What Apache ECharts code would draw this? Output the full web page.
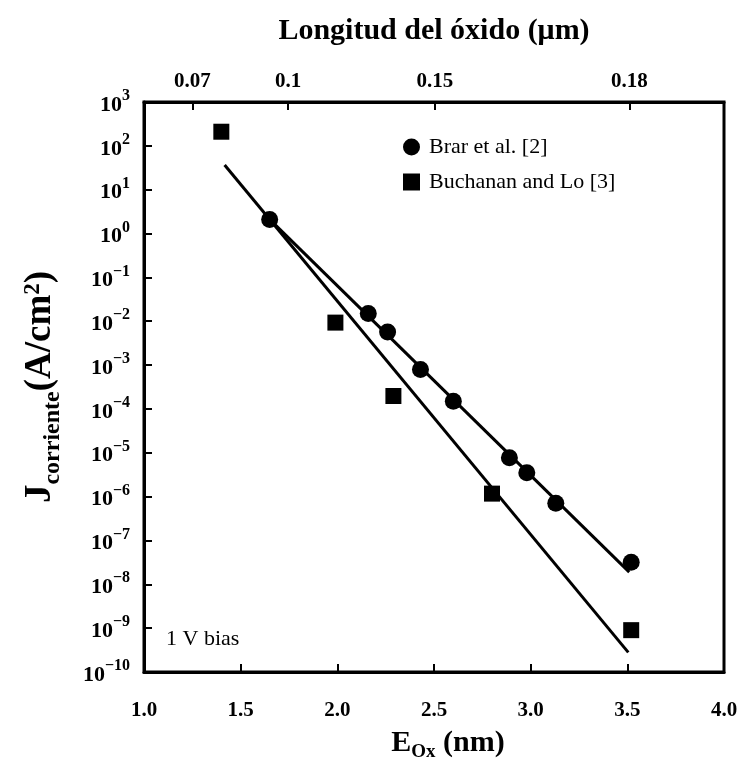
<!DOCTYPE html>
<html>
<head>
<meta charset="utf-8">
<script src="https://cdn.jsdelivr.net/npm/echarts@6/dist/echarts.min.js"></script>
<style>
  html, body { margin: 0; padding: 0; background: #ffffff; }
  #chart { width: 739px; height: 758px; }
</style>
</head>
<body>
<div id="chart"></div>
<script>
// ---- Data ----
// Brar et al. [2] (circles): oxide thickness (nm), current density (A/cm^2)
const brarX = [1.65, 2.16, 2.26, 2.43, 2.60, 2.89, 2.98, 3.13, 3.52];
const brarY = [2.1, 1.5e-2, 5.7e-3, 7.9e-4, 1.5e-4, 7.7e-6, 3.5e-6, 7.1e-7, 3.2e-8];

// Buchanan and Lo [3] (squares)
const buchX = [1.40, 1.99, 2.29, 2.80, 3.52];
const buchY = [2.1e2, 9.3e-3, 1.97e-4, 1.17e-6, 9.0e-10];

// Fitted straight lines (endpoints as drawn)
const brarFitX = [1.65, 3.51];
const brarFitY = [2.1, 1.9e-8];
const buchFitX = [1.417, 3.505];
const buchFitY = [36.5, 2.8e-10];

// Axis ticks
const yExponents = [3, 2, 1, 0, -1, -2, -3, -4, -5, -6, -7, -8, -9, -10];
const topTickPos = [1.25, 1.745, 2.505, 3.51];
const topTickLabels = ['0.07', '0.1', '0.15', '0.18'];

const seriesNames = ['Brar et al. [2]', 'Buchanan and Lo [3]'];

// ---- Build ----
const zip = (xs, ys) => xs.map((x, i) => [x, ys[i]]);
const SERIF = '"Liberation Serif", "DejaVu Serif", serif';

const chart = echarts.init(document.getElementById('chart'), null, { renderer: 'canvas' });

const option = {
  backgroundColor: '#ffffff',
  animation: false,
  grid: {
    left: 144, right: 15, top: 102, bottom: 86,
    containLabel: false, outerBoundsMode: 'none',
    show: true, borderColor: '#000', borderWidth: 3, backgroundColor: 'transparent'
  },
  legend: {
    data: [
      { name: seriesNames[0], icon: 'circle' },
      { name: seriesNames[1], icon: 'rect' }
    ],
    orient: 'vertical',
    left: 398, top: 131,
    itemWidth: 17, itemHeight: 17, itemGap: 13, itemStyle: { opacity: 1, color: '#000' },
    textStyle: { fontFamily: SERIF, fontSize: 22, color: '#000', fontWeight: 'normal', padding: [0, 0, 0, 4] }
  },
  xAxis: [
    {
      type: 'value', min: 1, max: 4, interval: 0.5, position: 'bottom',
      name: '{m|E}{s|Ox}{m| (nm)}',
      nameLocation: 'middle', nameGap: 56,
      nameTextStyle: {
        padding: [0, 0, 0, 28],
        rich: {
          m: { fontFamily: SERIF, fontSize: 30, fontWeight: 'bold', color: '#000', lineHeight: 32, verticalAlign: 'top' },
          s: { fontFamily: SERIF, fontSize: 19, fontWeight: 'bold', color: '#000', lineHeight: 42, verticalAlign: 'top', padding: [15, 0, 0, 0] }
        }
      },
      axisLine: { lineStyle: { color: '#000', width: 3 } },
      axisTick: { inside: true, length: 8, lineStyle: { color: '#000', width: 2 } },
      axisLabel: {
        margin: 28, color: '#000', fontFamily: SERIF, fontSize: 21, fontWeight: 'bold',
        formatter: v => v.toFixed(1)
      },
      splitLine: { show: false }
    },
    {
      type: 'value', min: 1, max: 4, position: 'top',
      name: 'Longitud del óxido (μm)',
      nameLocation: 'middle', nameGap: 56,
      nameTextStyle: { fontFamily: SERIF, fontSize: 30, fontWeight: 'bold', color: '#000' },
      axisLine: { lineStyle: { color: '#000', width: 3 } },
      axisTick: { inside: true, length: 8, customValues: topTickPos, lineStyle: { color: '#000', width: 2 } },
      axisLabel: {
        margin: 10, color: '#000', fontFamily: SERIF, fontSize: 21, fontWeight: 'bold',
        customValues: topTickPos,
        formatter: v => {
          let best = 0;
          topTickPos.forEach((p, i) => { if (Math.abs(p - v) < Math.abs(topTickPos[best] - v)) best = i; });
          return topTickLabels[best];
        }
      },
      splitLine: { show: false }
    }
  ],
  yAxis: {
    type: 'log', logBase: 10, min: Math.pow(10, yExponents[yExponents.length - 1]), max: Math.pow(10, yExponents[0]),
    interval: 1,
    name: '{m|J}{s|corriente}{m|(A/cm}{p|2}{m|)}',
    nameLocation: 'middle', nameRotate: 90, nameGap: 80,
    nameTextStyle: {
      rich: {
        m: { fontFamily: SERIF, fontSize: 37, fontWeight: 'bold', color: '#000', lineHeight: 40, verticalAlign: 'top' },
        s: { fontFamily: SERIF, fontSize: 24, fontWeight: 'bold', color: '#000', lineHeight: 42, verticalAlign: 'top', padding: [19, 0, 0, 0] },
        p: { fontFamily: SERIF, fontSize: 23, fontWeight: 'bold', color: '#000', lineHeight: 22, verticalAlign: 'top' }
      }
    },
    axisLine: { lineStyle: { color: '#000', width: 3 } },
    axisTick: { inside: true, length: 8, lineStyle: { color: '#000', width: 2 } },
    axisLabel: {
      margin: 14,
      formatter: v => {
        const e = Math.round(Math.log10(v));
        return '{b|10}{s|' + (e < 0 ? '\u2212' + (-e) : e) + '}';
      },
      rich: {
        b: { fontFamily: SERIF, fontSize: 22, fontWeight: 'bold', color: '#000', lineHeight: 28, verticalAlign: 'bottom' },
        s: { fontFamily: SERIF, fontSize: 16, fontWeight: 'bold', color: '#000', lineHeight: 18, verticalAlign: 'top' }
      }
    },
    splitLine: { show: false }
  },
  graphic: [
    {
      type: 'text', left: 166, top: 628,
      style: { text: '1 V bias', fontFamily: SERIF, fontSize: 22, fill: '#000' }
    }
  ],
  series: [
    {
      name: seriesNames[0] + ' fit', type: 'line', xAxisIndex: 0,
      data: zip(brarFitX, brarFitY), showSymbol: false, symbol: 'none',
      lineStyle: { color: '#000', width: 3 }, z: 2
    },
    {
      name: seriesNames[1] + ' fit', type: 'line', xAxisIndex: 0,
      data: zip(buchFitX, buchFitY), showSymbol: false, symbol: 'none',
      lineStyle: { color: '#000', width: 3 }, z: 2
    },
    {
      name: seriesNames[0], type: 'scatter', xAxisIndex: 0,
      data: zip(brarX, brarY), symbol: 'circle', symbolSize: 17,
      itemStyle: { color: '#000', opacity: 1 }, z: 3
    },
    {
      name: seriesNames[1], type: 'scatter', xAxisIndex: 0,
      data: zip(buchX, buchY), symbol: 'rect', symbolSize: 16,
      itemStyle: { color: '#000', opacity: 1 }, z: 3
    }
  ]
};

chart.setOption(option);
</script>
</body>
</html>
